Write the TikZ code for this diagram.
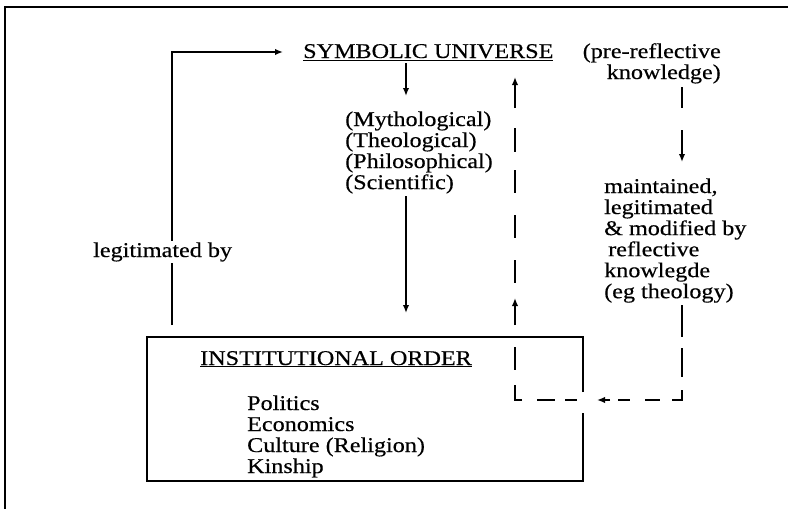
\documentclass[tikz,border=0pt]{standalone}
\usepackage{fontspec}
\setmainfont[FakeStretch=1.15,FakeBold=0.4]{Liberation Serif}
\usetikzlibrary{arrows.meta}
\newcommand\stackL[1]{\begin{tabular}[t]{@{}l@{}}#1\end{tabular}}
\newcommand\stackR[1]{\begin{tabular}[t]{@{}r@{}}#1\end{tabular}}
\begin{document}
\begin{tikzpicture}[x=1pt,y=-1pt,
  font=\fontsize{21}{21}\selectfont,
  ln/.style={line width=1.6pt},
  arr/.style={ln,-{Latex[length=8pt,width=6.5pt]}},
  txt/.style={anchor=base west,inner sep=0pt}]
\useasboundingbox (0,0) rectangle (788,509);
% outer frame (top and left only)
\draw[line width=1.8pt] (5,509) -- (5,7) -- (788,7);

% text nodes
\node[txt] (su) at (303,58) {\underline{SYMBOLIC UNIVERSE}};
\node[anchor=base east,inner sep=0pt] (pre) at (721,58) {\stackR{(pre-reflective\\knowledge)}};
\node[txt] (myth) at (345,126) {\stackL{(Mythological)\\(Theological)\\(Philosophical)\\(Scientific)}};
\node[txt] (io) at (200,365) {\underline{INSTITUTIONAL ORDER}};
\node[txt] (list) at (247,410) {\stackL{Politics\\Economics\\Culture (Religion)\\Kinship}};
\node[txt] (maint) at (604,193) {\stackL{maintained,\\legitimated\\\& modified by\\\hspace{4pt}reflective\\knowlegde\\(eg theology)}};

% institutional order box (gap on right for dashed line)
\coordinate (bnw) at (147,337);
\coordinate (bse) at (583,481);
\draw[ln] (bse |- 0,392) -- (bse |- bnw) -- (bnw) -- (bnw |- bse) -- (bse) -- (bse |- 0,413);

% legitimated by loop
\coordinate (lgb) at (172,325);
\coordinate (lgt) at (283,52);
\draw[arr] (lgb) -- (lgb |- lgt) -- (lgt);
\node[txt,fill=white,inner sep=1pt] (legit) at (92,257) {legitimated by};

% symbolic universe -> knowledge types -> institutional order
\coordinate (sua) at (406,63);
\coordinate (mytop) at (406,96);
\coordinate (mybot) at (406,196);
\coordinate (iotop) at (406,313);
\draw[arr] (sua) -- (mytop);
\draw[arr] (mybot) -- (iotop);

% dashed feedback loop
\coordinate (pk) at (682,87);
\coordinate (mtop) at (682,162);
\coordinate (cr) at (682,400);
\coordinate (cl) at (515,400);
\coordinate (sutip) at (515,77);
\draw[ln] (pk) -- (682,108);
\draw[arr] (682,130) -- (mtop);
\foreach \a/\b in {305/337,348/377} \draw[ln] (682,\a) -- (682,\b);
\draw[ln] (682,390) -- (cr) -- (672,400);
\foreach \a/\b in {645/660,618/630,565/577,537/555} \draw[ln] (\a,400) -- (\b,400);
\draw[arr] (610,400) -- (597,400);
\draw[ln] (522,400) -- (cl) -- (515,385);
\foreach \a/\b in {347/370,260/283,215/238,170/193,128/152} \draw[ln] (515,\a) -- (515,\b);
\draw[arr] (515,325) -- (515,298);
\draw[arr] (515,108) -- (sutip);
\end{tikzpicture}
\end{document}
